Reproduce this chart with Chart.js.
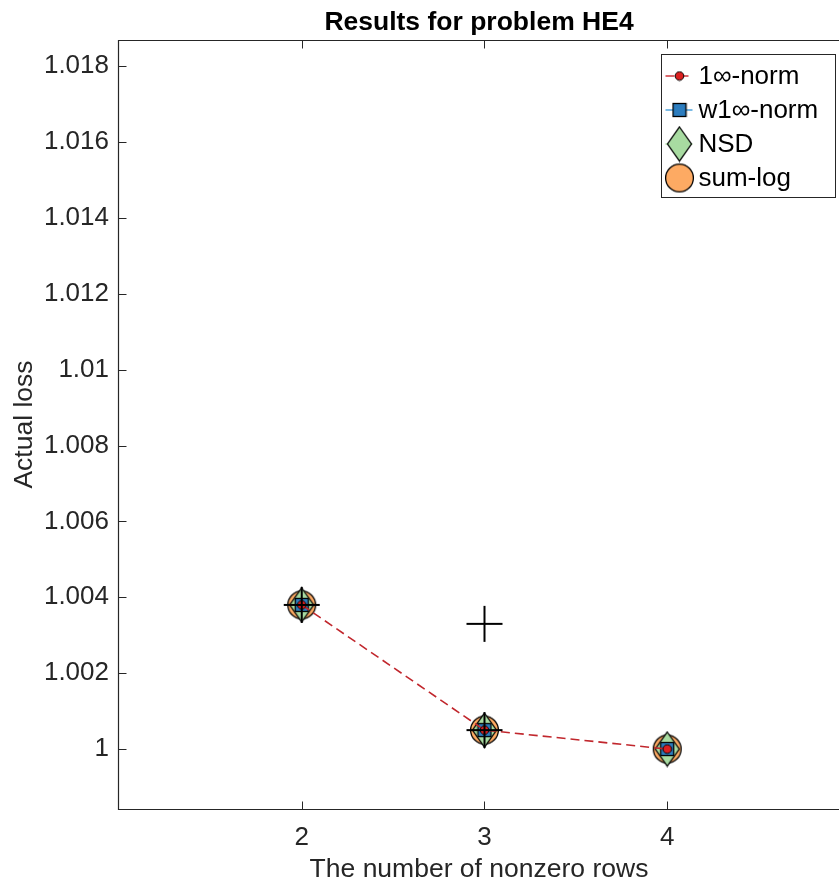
<!DOCTYPE html>
<html>
<head>
<meta charset="utf-8">
<script src="https://cdn.jsdelivr.net/npm/chart.js@4.4.0/dist/chart.umd.min.js"></script>
<style>
html, body { margin: 0; padding: 0; background: #ffffff; overflow: hidden; }
canvas { display: block; }
</style>
</head>
<body>
<canvas id="c" width="839" height="886" style="width:839px;height:886px"></canvas>
<script>
// ---- data ----
const rows = [2, 3, 4];
const norm1inf = [1.0038, 1.0005, 1.0000];
const normW1inf = [1.0038, 1.0005, 1.0000];
const nsd = [1.0038, 1.0005, 1.0000];
const sumLog = [1.0038, 1.0005, 1.0000];
const crossRows = [2, 3, 3];
const crossLoss = [1.0038, 1.0005, 1.0033];
const xTicks = [2, 3, 4];
const yTicks = [1, 1.002, 1.004, 1.006, 1.008, 1.01, 1.012, 1.014, 1.016, 1.018];
const seriesNames = ['1\u221E-norm', 'w1\u221E-norm', 'NSD', 'sum-log'];
const titleText = 'Results for problem HE4';
const xLabel = 'The number of nonzero rows';
const yLabel = 'Actual loss';

const FONT = '"Liberation Sans", Arial, Helvetica, sans-serif';
const AXIS = '#262626';

// ---- marker images ----
function mk(w, h, draw) {
  const c = document.createElement('canvas');
  c.width = w; c.height = h;
  draw(c.getContext('2d'), w, h);
  return c;
}
const redDot = mk(11, 11, g => {
  g.beginPath(); g.arc(5.5, 5.5, 4.3, 0, 2 * Math.PI);
  g.fillStyle = '#dc1f1f'; g.fill();
  g.lineWidth = 1; g.strokeStyle = '#000'; g.stroke();
});
const blueSq = mk(16, 16, g => {
  g.fillStyle = '#2c7dbf'; g.fillRect(1.5, 1.5, 13, 13);
  g.lineWidth = 1.3; g.strokeStyle = '#000'; g.strokeRect(1.5, 1.5, 13, 13);
});
const diamond = mk(27, 37, g => {
  g.beginPath(); g.moveTo(13.5, 1.5); g.lineTo(25.5, 18.5); g.lineTo(13.5, 35.5); g.lineTo(1.5, 18.5); g.closePath();
  g.fillStyle = '#a8dba1'; g.fill();
  g.lineWidth = 1.3; g.strokeStyle = '#000'; g.stroke();
});
const orangeC = mk(31, 31, g => {
  g.beginPath(); g.arc(15.5, 15.5, 13.9, 0, 2 * Math.PI);
  g.fillStyle = '#fdaa63'; g.fill();
  g.lineWidth = 1.3; g.strokeStyle = '#000'; g.stroke();
});
const plusMark = mk(38, 38, g => {
  g.strokeStyle = '#000'; g.lineWidth = 2;
  g.beginPath(); g.moveTo(1, 19); g.lineTo(37, 19); g.moveTo(19, 1); g.lineTo(19, 37); g.stroke();
});

const toPts = (xs, ys) => xs.map((x, i) => ({ x: x, y: ys[i] }));

// ---- plugins ----
const framePlugin = {
  id: 'frame',
  beforeDatasetsDraw(chart) {
    const { ctx, chartArea: a, scales } = chart;
    const L = Math.round(a.left) - 0.5, T = Math.round(a.top) + 0.5, B = Math.round(a.bottom) + 0.5, R = a.right + 2;
    ctx.save();
    ctx.strokeStyle = AXIS; ctx.lineWidth = 1.2;
    ctx.beginPath();
    ctx.moveTo(R, T); ctx.lineTo(L, T); ctx.lineTo(L, B); ctx.lineTo(R, B);
    ctx.stroke();
    ctx.lineWidth = 1;
    ctx.beginPath();
    scales.y.ticks.forEach(t => {
      const py = Math.round(scales.y.getPixelForValue(t.value)) + 0.5;
      ctx.moveTo(L, py); ctx.lineTo(L + 8, py);
    });
    scales.x.ticks.forEach(t => {
      const px = Math.round(scales.x.getPixelForValue(t.value)) + 0.5;
      ctx.moveTo(px, B); ctx.lineTo(px, B - 8);
      ctx.moveTo(px, T); ctx.lineTo(px, T + 8);
    });
    ctx.stroke();
    ctx.restore();
  }
};

const legendPlugin = {
  id: 'boxLegend',
  afterDatasetsDraw(chart) {
    const { ctx, chartArea: a } = chart;
    const w = 174, h = 143;
    const left = Math.round(a.right - 4 - w) + 0.5, top = Math.round(a.top + 14) + 0.5;
    ctx.save();
    ctx.fillStyle = '#fff'; ctx.fillRect(left, top, w, h);
    ctx.strokeStyle = AXIS; ctx.lineWidth = 1; ctx.strokeRect(left, top, w, h);
    for (let i = 0; i < seriesNames.length; i++) {
      const ds = chart.data.datasets[i];
      const y = top + 21.5 + i * 34;
      ctx.beginPath();
      ctx.setLineDash(ds.borderDash || []);
      ctx.strokeStyle = ds.legendLine; ctx.lineWidth = 1.5;
      ctx.moveTo(left + 4, y); ctx.lineTo(left + 31, y); ctx.stroke();
      ctx.setLineDash([]);
      const img = ds.pointStyle;
      ctx.drawImage(img, left + 18 - img.width / 2, y - img.height / 2);
      ctx.fillStyle = '#000';
      ctx.font = '26px ' + FONT;
      ctx.textBaseline = 'middle'; ctx.textAlign = 'left';
      ctx.fillText(ds.label, left + 37, y + 1);
    }
    ctx.restore();
  }
};

Chart.defaults.font.family = FONT;
Chart.defaults.color = AXIS;

new Chart(document.getElementById('c'), {
  type: 'scatter',
  data: {
    datasets: [
      { label: seriesNames[0], data: toPts(rows, norm1inf), showLine: true, borderColor: '#c1272d', legendLine: '#d0363c',
        borderWidth: 1.6, borderDash: [9, 5], pointStyle: redDot, pointRadius: 5, order: 1 },
      { label: seriesNames[1], data: toPts(rows, normW1inf), showLine: false, borderColor: '#4ea3dd', legendLine: '#4ea3dd',
        pointStyle: blueSq, pointRadius: 8, order: 2 },
      { label: seriesNames[2], data: toPts(rows, nsd), showLine: false, borderColor: '#a8dba1', legendLine: '#a8dba1',
        pointStyle: diamond, pointRadius: 14, order: 3 },
      { label: seriesNames[3], data: toPts(rows, sumLog), showLine: false, borderColor: '#fdaa63', legendLine: '#fdaa63',
        pointStyle: orangeC, pointRadius: 14, order: 4 },
      { label: '', data: toPts(crossRows, crossLoss), showLine: false, borderColor: '#000',
        pointStyle: plusMark, pointRadius: 18, order: 0 }
    ]
  },
  options: {
    responsive: false,
    maintainAspectRatio: false,
    devicePixelRatio: 1,
    animation: false,
    layout: { padding: 0, autoPadding: false },
    plugins: {
      legend: { display: false },
      tooltip: { enabled: false },
      title: {
        display: true, text: titleText, fullSize: false, color: '#000',
        font: { size: 26.5, weight: 'bold', lineHeight: 1.2 },
        padding: { top: 7, bottom: 1.2 }
      }
    },
    scales: {
      x: {
        type: 'linear', min: 1, max: 4.94,
        afterBuildTicks: s => { s.ticks = xTicks.map(v => ({ value: v })); },
        afterFit: s => { s.height = 77; s.paddingLeft = 0; s.paddingRight = 0; },
        grid: { display: false, drawTicks: false },
        border: { display: false },
        ticks: { font: { size: 26 }, padding: 13, color: AXIS, callback: v => String(v) },
        title: { display: true, text: xLabel, font: { size: 26.5 }, color: AXIS, padding: { top: 0, bottom: 0 } }
      },
      y: {
        type: 'linear', min: 0.99842, max: 1.01869,
        afterBuildTicks: s => { s.ticks = yTicks.map(v => ({ value: v })); },
        afterFit: s => { s.width = 119; s.paddingTop = 0; s.paddingBottom = 0; },
        grid: { display: false, drawTicks: false },
        border: { display: false },
        ticks: { font: { size: 26 }, padding: 10, color: AXIS, callback: v => String(Number(v.toFixed(3))) },
        title: { display: true, text: yLabel, font: { size: 26.5 }, color: AXIS, padding: { top: 9, bottom: 0 } }
      }
    }
  },
  plugins: [framePlugin, legendPlugin]
});
</script>
</body>
</html>
